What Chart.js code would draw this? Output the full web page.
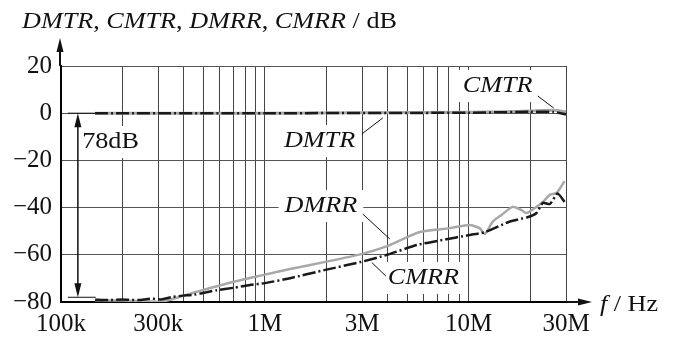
<!DOCTYPE html>
<html><head><meta charset="utf-8">
<script src="https://cdn.jsdelivr.net/npm/chart.js@4/dist/chart.umd.min.js"></script>
<style>html,body{margin:0;padding:0;background:#fff}#wrap{width:675px;height:340px;position:relative}</style>
</head><body><div id="wrap"><canvas id="c"></canvas></div>
<script>
// ---- data ----
const gridFreqs = [1e5,2e5,3e5,4e5,5e5,6e5,7e5,8e5,9e5,1e6,2e6,3e6,4e6,5e6,6e6,7e6,8e6,9e6,1e7,2e7,3e7];
const xTickValues = [1e5,3e5,1e6,3e6,1e7,3e7];
const xTickLabels = ['100k','300k','1M','3M','10M','30M'];
const yTickValues = [-80,-60,-40,-20,0,20];
const yTickLabels = ['\u221280','\u221260','\u221240','\u221220','0','20'];

const dmtrFreq = [1.47e5,3e5,1e6,3e6,1e7,1.5e7,2e7,2.6e7,3e7];
const dmtrVal  = [0,0,0,0.2,0.4,0.6,0.9,1.2,0.6];
const cmtrFreq = [1.47e5,1e6,1e7,2e7,2.6e7,3e7];
const cmtrVal  = [0,0,0.2,0.6,0.5,-0.5];

const dmrrFreq = [1.47e5,2.0e5,2.6e5,3.06e5,3.5e5,4.0e5,4.8e5,6.97e5,9.78e5,1.33e6,1.98e6,2.97e6,3.98e6,4.87e6,5.76e6,8.07e6,1.01e7,1.13e7,1.2e7,1.31e7,1.45e7,1.64e7,1.81e7,1.92e7,2.15e7,2.31e7,2.5e7,2.7e7,2.95e7];
const dmrrVal  = [-79.3,-79.4,-79.7,-80.0,-78.8,-77.3,-75.3,-71.5,-68.6,-66.0,-63.0,-59.7,-56.3,-52.9,-50.3,-48.7,-47.4,-48.7,-51.2,-46.0,-43.1,-39.7,-41.0,-42.3,-39.7,-37.6,-34.6,-33.8,-28.8];

const cmrrFreq = [1.47e5,1.7e5,2.0e5,2.4e5,2.73e5,3.1e5,3.5e5,3.96e5,4.5e5,5.8e5,7e5,8.46e5,1.0e6,1.33e6,1.98e6,2.97e6,3.98e6,5.6e6,7.46e6,1.01e7,1.2e7,1.59e7,1.94e7,2.15e7,2.31e7,2.5e7,2.73e7,2.95e7];
const cmrrVal  = [-79.0,-79.2,-78.9,-79.2,-78.6,-78.9,-77.9,-77.3,-76.9,-75.0,-74.0,-72.8,-72.0,-69.9,-66.4,-63.0,-60.0,-55.8,-53.7,-51.6,-50.4,-45.9,-44.1,-42.3,-38.0,-38.5,-34.0,-37.6];

// ---- annotation placement (data units) ----
const annoText   = ['78dB','DMTR','CMTR','DMRR','CMRR'];
const annoItalic = [false,true,true,true,true];
const annoF      = [1.27e5,1.24e6,9.35e6,1.25e6,4.01e6];
const annoV      = [-12.2,-11.8,11.5,-39.3,-69.8];
const leaders    = [[2.99e6,-8.8,3.79e6,-2.0],[2.18e7,7.3,2.61e7,2.2],[3.02e6,-42.7,4.10e6,-53.3],[3.35e6,-63.3,3.92e6,-69.0]];

const pts = (f,v)=>f.map((x,i)=>({x:x,y:v[i]}));
const FONT = '"Liberation Serif", "Times New Roman", Times, serif';
const FS = 24;      // annotation / title size
const TFS = 25;     // tick label size
const SX = 1.09;    // horizontal stretch of the reference lettering

function stretchedText(ctx, t, x, y){
  ctx.save(); ctx.translate(x, y); ctx.scale(SX, 1); ctx.fillText(t, 0, 0); ctx.restore();
}
function richText(ctx, segs, x, y){
  let cx = x;
  for (const s of segs){
    ctx.font = (s.i?'italic ':'') + FS + 'px ' + FONT;
    stretchedText(ctx, s.t, cx, y);
    cx += ctx.measureText(s.t).width * SX;
  }
}
function arrowHead(ctx, x, y, dx, dy, len, hw){
  const px = -dy, py = dx;
  ctx.beginPath();
  ctx.moveTo(x, y);
  ctx.lineTo(x - dx*len + px*hw, y - dy*len + py*hw);
  ctx.lineTo(x - dx*len - px*hw, y - dy*len - py*hw);
  ctx.closePath();
  ctx.fill();
}

const deco = {
  id:'deco',
  beforeDatasetsDraw(chart){
    const {ctx, scales:{x,y}} = chart;
    ctx.save();
    ctx.fillStyle = '#fff';
    annoText.forEach((t,i)=>{
      ctx.font = (annoItalic[i]?'italic ':'') + FS + 'px ' + FONT;
      const w = ctx.measureText(t).width * SX;
      const px = x.getPixelForValue(annoF[i]), py = y.getPixelForValue(annoV[i]);
      ctx.fillRect(px-6, py-16, w+12, 32);
    });
    ctx.restore();
  },
  afterDraw(chart){
    const {ctx, chartArea:ca, scales:{x,y}} = chart;
    ctx.save();
    ctx.fillStyle = '#111'; ctx.strokeStyle = '#111';
    ctx.textBaseline = 'middle'; ctx.textAlign = 'left';
    annoText.forEach((t,i)=>{
      ctx.font = (annoItalic[i]?'italic ':'') + FS + 'px ' + FONT;
      stretchedText(ctx, t, x.getPixelForValue(annoF[i]), y.getPixelForValue(annoV[i]));
    });
    ctx.lineWidth = 1;
    leaders.forEach(l=>{
      ctx.beginPath();
      ctx.moveTo(x.getPixelForValue(l[0]), y.getPixelForValue(l[1]));
      ctx.lineTo(x.getPixelForValue(l[2]), y.getPixelForValue(l[3]));
      ctx.stroke();
    });
    // 78 dB double arrow
    const ax = x.getPixelForValue(1.21e5);
    const y0 = y.getPixelForValue(0), y1 = y.getPixelForValue(-78);
    ctx.lineWidth = 1.5;
    ctx.beginPath(); ctx.moveTo(ax, y0+10); ctx.lineTo(ax, y1-10); ctx.stroke();
    arrowHead(ctx, ax, y0, 0, -1, 14, 3.5);
    arrowHead(ctx, ax, y1, 0, 1, 14, 3.5);
    ctx.lineWidth = 1;
    const ex0 = x.getPixelForValue(1.08e5), ex1 = x.getPixelForValue(1.48e5);
    ctx.beginPath(); ctx.moveTo(ex0, y0); ctx.lineTo(ex1, y0); ctx.moveTo(ex0, y1); ctx.lineTo(ex1, y1); ctx.stroke();
    // axis arrows
    ctx.lineWidth = 2;
    ctx.beginPath(); ctx.moveTo(ca.left-1, ca.top); ctx.lineTo(ca.left-1, 48); ctx.stroke();
    arrowHead(ctx, ca.left-1, 38, 0, -1, 14, 3.5);
    ctx.beginPath(); ctx.moveTo(ca.right, ca.bottom); ctx.lineTo(582, ca.bottom); ctx.stroke();
    arrowHead(ctx, 592, ca.bottom, 1, 0, 14, 3.5);
    // titles
    ctx.textBaseline = 'alphabetic';
    richText(ctx, [{t:'DMTR',i:1},{t:', '},{t:'CMTR',i:1},{t:', '},{t:'DMRR',i:1},{t:', '},{t:'CMRR',i:1},{t:' / dB'}], 22, 28);
    richText(ctx, [{t:'f',i:1},{t:' / Hz'}], 600, 311);
    ctx.restore();
  }
};

new Chart(document.getElementById('c'), {
  type:'line',
  data:{datasets:[
    {label:'CMTR', data:pts(cmtrFreq,cmtrVal), borderColor:'#1a1a1a', borderWidth:2.5, borderDash:[13,3,2,3], pointRadius:0, tension:0.2, order:1},
    {label:'CMRR', data:pts(cmrrFreq,cmrrVal), borderColor:'#1a1a1a', borderWidth:2.5, borderDash:[13,3,2,3], pointRadius:0, tension:0.2, order:2},
    {label:'DMTR', data:pts(dmtrFreq,dmtrVal), borderColor:'#a8a8a8', borderWidth:3, pointRadius:0, tension:0.2, order:3},
    {label:'DMRR', data:pts(dmrrFreq,dmrrVal), borderColor:'#a8a8a8', borderWidth:2.5, pointRadius:0, tension:0.2, order:4}
  ]},
  options:{
    responsive:true, maintainAspectRatio:false, animation:false,
    layout:{padding:{top:66,right:109,left:0,bottom:0}},
    plugins:{legend:{display:false}, tooltip:{enabled:false}},
    scales:{
      x:{type:'logarithmic', min:1e5, max:3e7,
        afterBuildTicks:s=>{ s.ticks = gridFreqs.map(v=>({value:v})); },
        afterFit:s=>{ s.height = 38; },
        ticks:{autoSkip:false, maxRotation:0, padding:7, color:'#111', font:{family:FONT,size:TFS},
          callback:(v)=>{ const k = xTickValues.findIndex(t=>Math.abs(t-v)/t<1e-6); return k>=0?xTickLabels[k]:''; }},
        grid:{color:'#444', lineWidth:1, drawTicks:false},
        border:{color:'#000', width:2}
      },
      y:{type:'linear', min:-80, max:20,
        afterBuildTicks:s=>{ s.ticks = yTickValues.map(v=>({value:v})); },
        afterFit:s=>{ s.width = 61; },
        ticks:{padding:9, color:'#111', font:{family:FONT,size:TFS},
          callback:(v)=>{ const k = yTickValues.indexOf(v); return k>=0?yTickLabels[k]:''; }},
        grid:{color:'#555', lineWidth:1, drawTicks:false},
        border:{color:'#000', width:2}
      }
    }
  },
  plugins:[deco]
});
</script></body></html>
